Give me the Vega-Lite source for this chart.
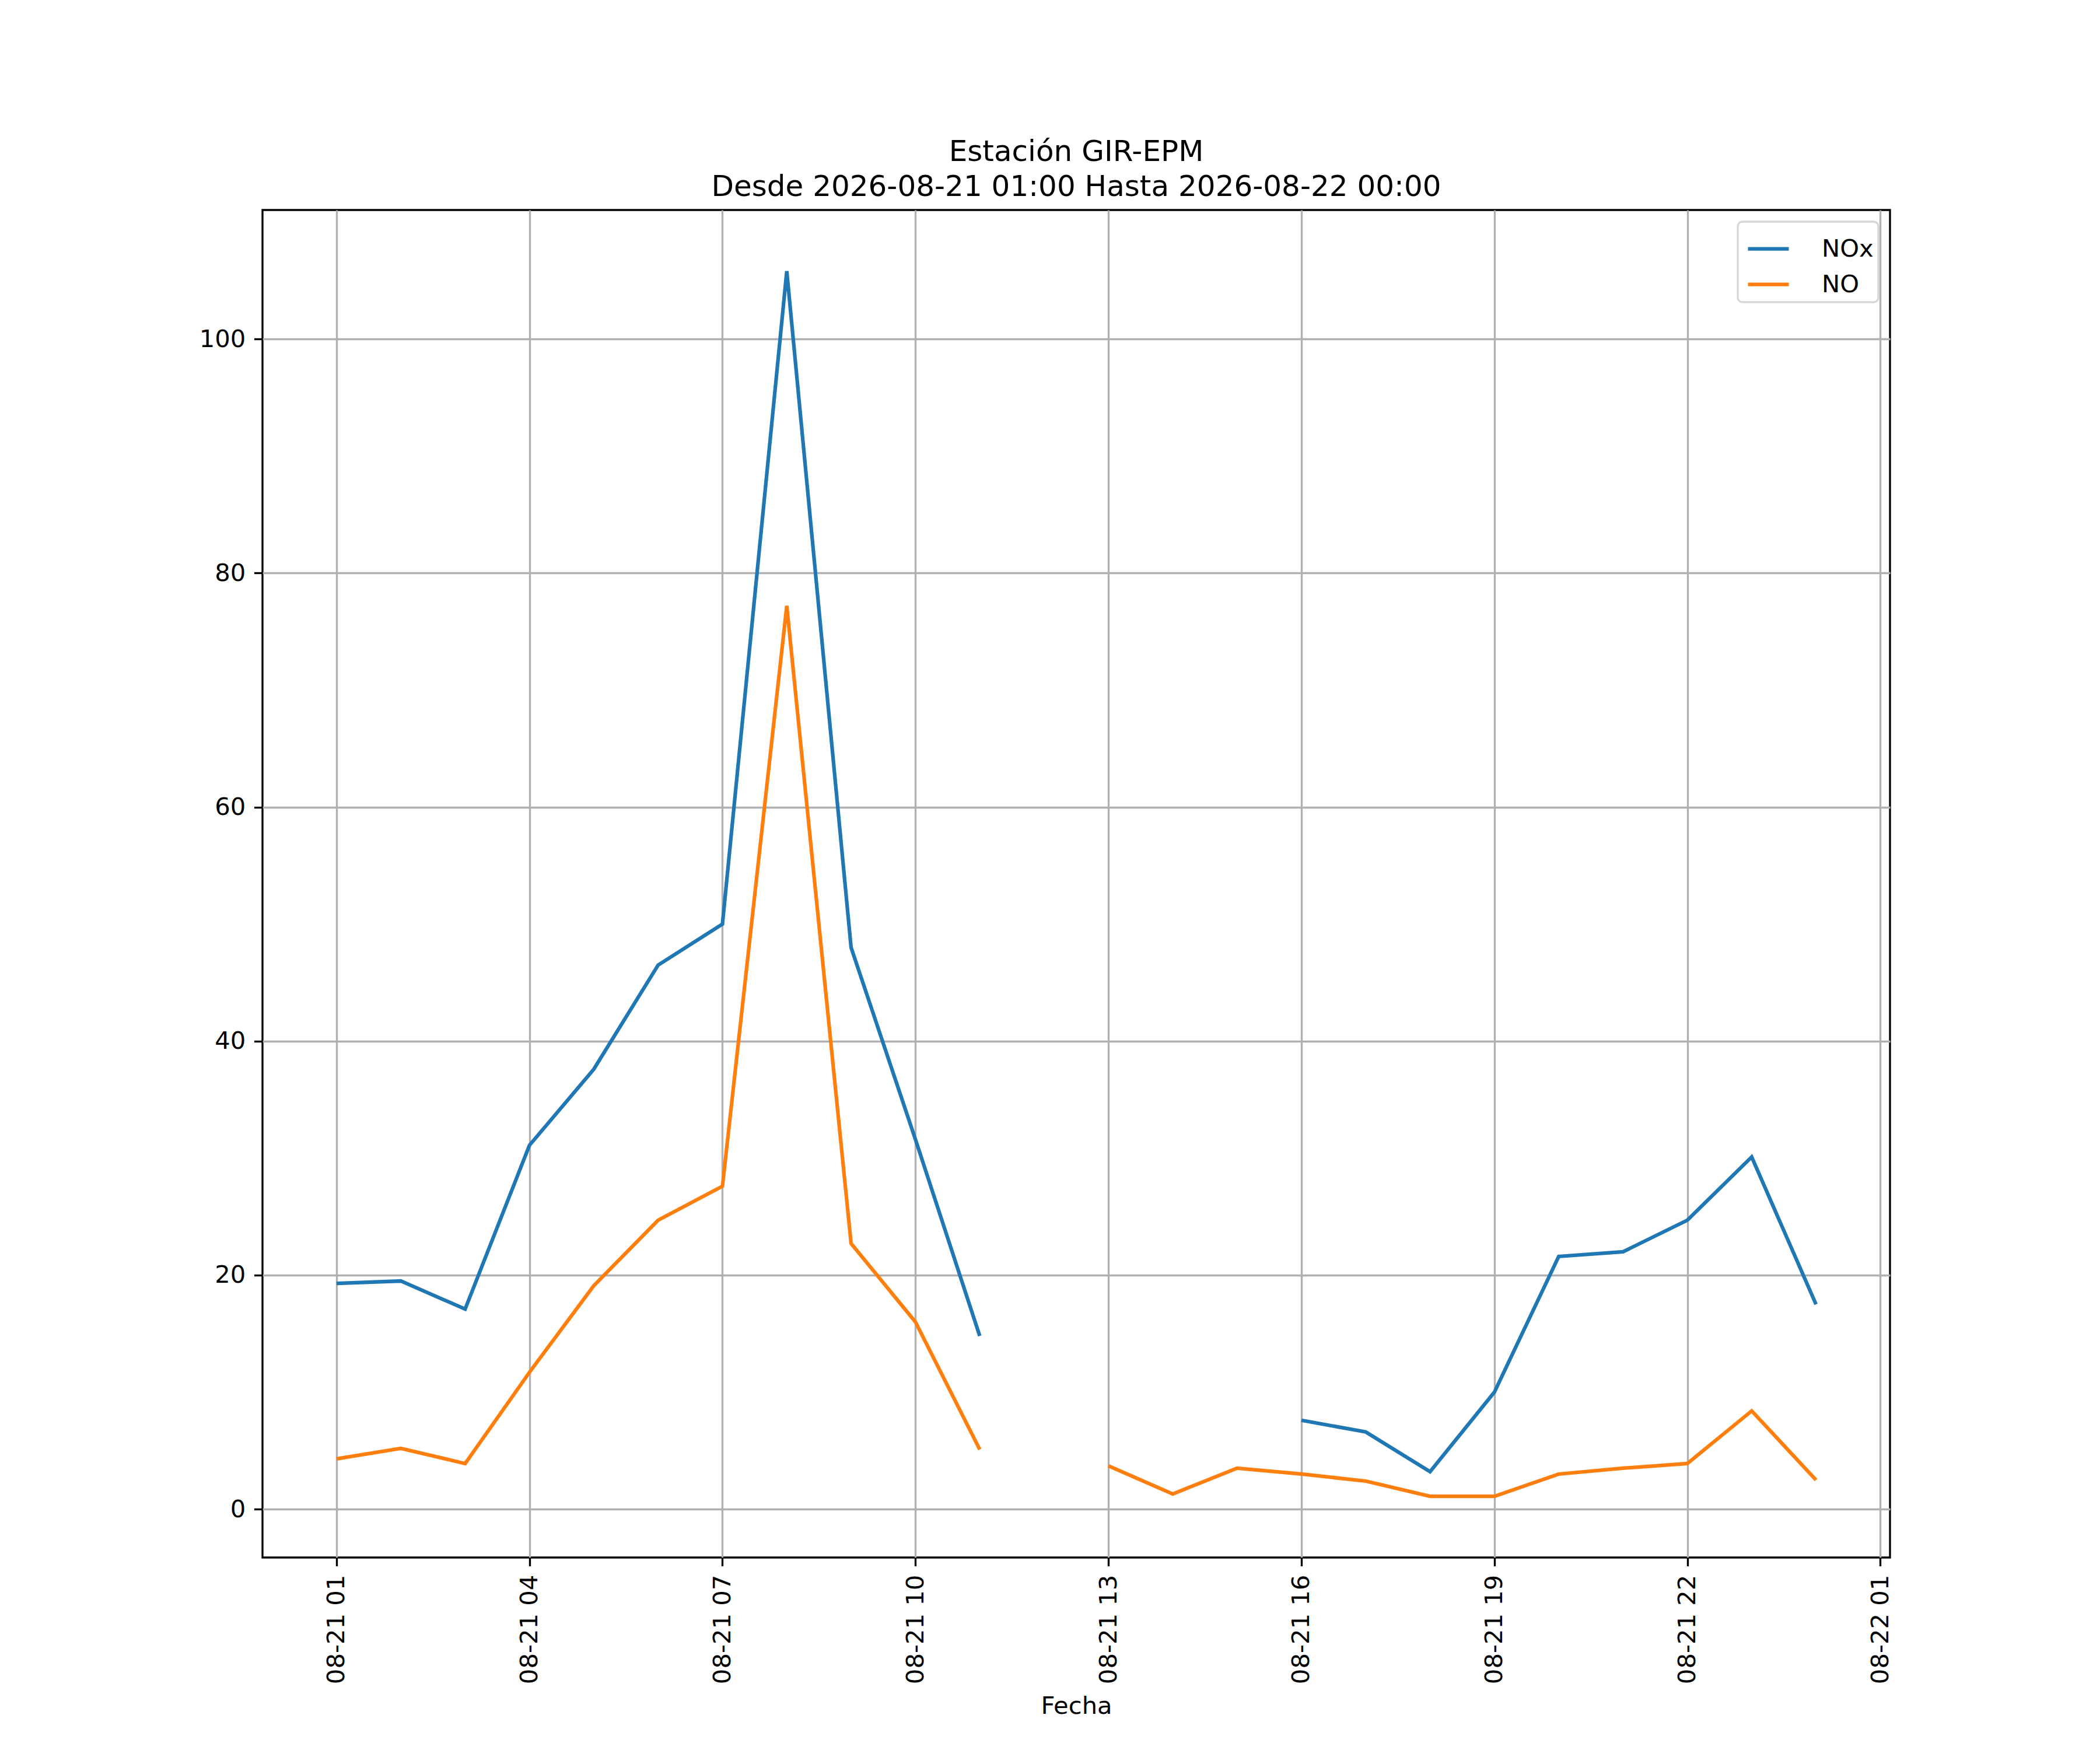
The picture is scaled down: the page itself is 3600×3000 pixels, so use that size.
{
  "$schema": "https://vega.github.io/schema/vega-lite/v6.json",
  "width": 2790,
  "height": 2310,
  "autosize": "none",
  "padding": {"left": 450, "top": 360, "right": 360, "bottom": 330},
  "background": "white",
  "title": {
    "text": ["Estación GIR-EPM", "Desde 2026-08-21 01:00 Hasta 2026-08-22 00:00"],
    "fontSize": 50,
    "fontWeight": "normal",
    "font": "DejaVu Sans",
    "color": "black",
    "anchor": "middle",
    "baseline": "bottom",
    "lineHeight": 60,
    "offset": -36
  },
  "config": {
    "font": "DejaVu Sans",
    "view": {"stroke": "black", "strokeWidth": 3.33},
    "axis": {
      "domain": false,
      "grid": true,
      "gridColor": "#b0b0b0",
      "gridWidth": 3.33,
      "tickColor": "black",
      "tickWidth": 3.33,
      "tickSize": 14.6,
      "labelFontSize": 41.7,
      "labelColor": "black",
      "labelPadding": 14.6,
      "labelLimit": 1000,
      "titleFontSize": 41.7,
      "titleFontWeight": "normal",
      "titleColor": "black"
    }
  },
  "data": {
    "values": [
      {"fecha": "2026-08-21T01:00:00", "serie": "NOx", "valor": 19.3},
      {"fecha": "2026-08-21T02:00:00", "serie": "NOx", "valor": 19.5},
      {"fecha": "2026-08-21T03:00:00", "serie": "NOx", "valor": 17.1},
      {"fecha": "2026-08-21T04:00:00", "serie": "NOx", "valor": 31.1},
      {"fecha": "2026-08-21T05:00:00", "serie": "NOx", "valor": 37.6},
      {"fecha": "2026-08-21T06:00:00", "serie": "NOx", "valor": 46.5},
      {"fecha": "2026-08-21T07:00:00", "serie": "NOx", "valor": 50.0},
      {"fecha": "2026-08-21T08:00:00", "serie": "NOx", "valor": 105.8},
      {"fecha": "2026-08-21T09:00:00", "serie": "NOx", "valor": 48.0},
      {"fecha": "2026-08-21T10:00:00", "serie": "NOx", "valor": 31.6},
      {"fecha": "2026-08-21T11:00:00", "serie": "NOx", "valor": 14.8},
      {"fecha": "2026-08-21T12:00:00", "serie": "NOx", "valor": null},
      {"fecha": "2026-08-21T13:00:00", "serie": "NOx", "valor": null},
      {"fecha": "2026-08-21T14:00:00", "serie": "NOx", "valor": null},
      {"fecha": "2026-08-21T15:00:00", "serie": "NOx", "valor": null},
      {"fecha": "2026-08-21T16:00:00", "serie": "NOx", "valor": 7.6},
      {"fecha": "2026-08-21T17:00:00", "serie": "NOx", "valor": 6.6},
      {"fecha": "2026-08-21T18:00:00", "serie": "NOx", "valor": 3.2},
      {"fecha": "2026-08-21T19:00:00", "serie": "NOx", "valor": 10.0},
      {"fecha": "2026-08-21T20:00:00", "serie": "NOx", "valor": 21.6},
      {"fecha": "2026-08-21T21:00:00", "serie": "NOx", "valor": 22.0},
      {"fecha": "2026-08-21T22:00:00", "serie": "NOx", "valor": 24.7},
      {"fecha": "2026-08-21T23:00:00", "serie": "NOx", "valor": 30.1},
      {"fecha": "2026-08-22T00:00:00", "serie": "NOx", "valor": 17.5},
      {"fecha": "2026-08-21T01:00:00", "serie": "NO", "valor": 4.3},
      {"fecha": "2026-08-21T02:00:00", "serie": "NO", "valor": 5.2},
      {"fecha": "2026-08-21T03:00:00", "serie": "NO", "valor": 3.9},
      {"fecha": "2026-08-21T04:00:00", "serie": "NO", "valor": 11.7},
      {"fecha": "2026-08-21T05:00:00", "serie": "NO", "valor": 19.1},
      {"fecha": "2026-08-21T06:00:00", "serie": "NO", "valor": 24.7},
      {"fecha": "2026-08-21T07:00:00", "serie": "NO", "valor": 27.6},
      {"fecha": "2026-08-21T08:00:00", "serie": "NO", "valor": 77.2},
      {"fecha": "2026-08-21T09:00:00", "serie": "NO", "valor": 22.7},
      {"fecha": "2026-08-21T10:00:00", "serie": "NO", "valor": 16.0},
      {"fecha": "2026-08-21T11:00:00", "serie": "NO", "valor": 5.1},
      {"fecha": "2026-08-21T12:00:00", "serie": "NO", "valor": null},
      {"fecha": "2026-08-21T13:00:00", "serie": "NO", "valor": 3.7},
      {"fecha": "2026-08-21T14:00:00", "serie": "NO", "valor": 1.3},
      {"fecha": "2026-08-21T15:00:00", "serie": "NO", "valor": 3.5},
      {"fecha": "2026-08-21T16:00:00", "serie": "NO", "valor": 3.0},
      {"fecha": "2026-08-21T17:00:00", "serie": "NO", "valor": 2.4},
      {"fecha": "2026-08-21T18:00:00", "serie": "NO", "valor": 1.1},
      {"fecha": "2026-08-21T19:00:00", "serie": "NO", "valor": 1.1},
      {"fecha": "2026-08-21T20:00:00", "serie": "NO", "valor": 3.0},
      {"fecha": "2026-08-21T21:00:00", "serie": "NO", "valor": 3.5},
      {"fecha": "2026-08-21T22:00:00", "serie": "NO", "valor": 3.9},
      {"fecha": "2026-08-21T23:00:00", "serie": "NO", "valor": 8.4},
      {"fecha": "2026-08-22T00:00:00", "serie": "NO", "valor": 2.5}
    ]
  },
  "mark": {"type": "line", "strokeWidth": 6.25, "invalid": "break-paths-show-domains", "clip": true},
  "encoding": {
    "x": {
      "field": "fecha",
      "type": "temporal",
      "title": "Fecha",
      "scale": {
        "domain": [
          {"year": 2026, "month": 8, "date": 20, "hours": 23, "minutes": 51},
          {"year": 2026, "month": 8, "date": 22, "hours": 1, "minutes": 9}
        ]
      },
      "axis": {
        "values": [
          {"year": 2026, "month": 8, "date": 21, "hours": 1},
          {"year": 2026, "month": 8, "date": 21, "hours": 4},
          {"year": 2026, "month": 8, "date": 21, "hours": 7},
          {"year": 2026, "month": 8, "date": 21, "hours": 10},
          {"year": 2026, "month": 8, "date": 21, "hours": 13},
          {"year": 2026, "month": 8, "date": 21, "hours": 16},
          {"year": 2026, "month": 8, "date": 21, "hours": 19},
          {"year": 2026, "month": 8, "date": 21, "hours": 22},
          {"year": 2026, "month": 8, "date": 22, "hours": 1}
        ],
        "format": "%m-%d %H",
        "labelAngle": -90,
        "labelFlush": false,
        "labelOverlap": false,
        "titlePadding": 34
      }
    },
    "y": {
      "field": "valor",
      "type": "quantitative",
      "title": null,
      "scale": {"domain": [-4.13, 111.03], "nice": false, "zero": false},
      "axis": {"values": [0, 20, 40, 60, 80, 100]}
    },
    "color": {
      "field": "serie",
      "type": "nominal",
      "scale": {"domain": ["NOx", "NO"], "range": ["#1f77b4", "#ff7f0e"]},
      "legend": {
        "title": null,
        "orient": "top-right",
        "offset": 20,
        "labelFontSize": 41.7,
        "labelColor": "black",
        "symbolType": "stroke",
        "symbolSize": 4900,
        "symbolStrokeWidth": 6.25,
        "symbolOffset": 6,
        "strokeColor": "#d6d6d6",
        "fillColor": "white",
        "cornerRadius": 8,
        "padding": 8,
        "rowPadding": -8,
        "labelOffset": 53,
        "encode": {"legend": {"update": {"strokeWidth": {"value": 3.3}}}}
      }
    }
  }
}
